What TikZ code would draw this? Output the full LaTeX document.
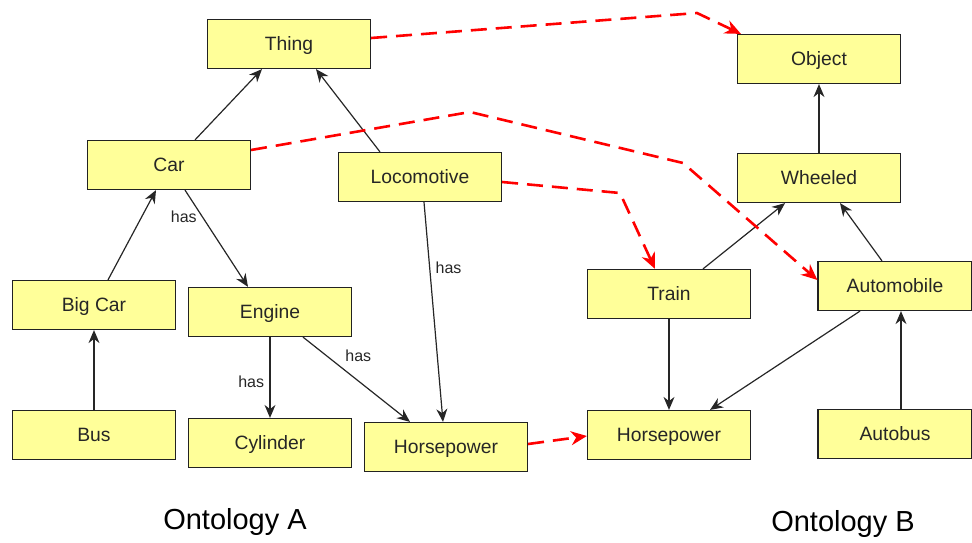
\documentclass[tikz,border=0pt]{standalone}
\usepackage{fontspec}
\setmainfont{Liberation Sans}
\usetikzlibrary{arrows.meta}
\definecolor{boxfill}{HTML}{FFFF99}
\definecolor{boxline}{HTML}{222222}
\begin{document}
\begin{tikzpicture}[x=1pt,y=-1pt,
  box/.style={draw=boxline,line width=1.2pt,fill=boxfill,minimum width=163pt,minimum height=49pt,inner sep=0pt,text height=13pt,text depth=0pt,font=\fontsize{19.3}{22}\selectfont,text=black!85},
  isa/.style={draw=black!85,line width=1.2pt,-{Stealth[length=13pt,width=11pt]}},
  map/.style={draw=red,line width=2.6pt,dash pattern=on 16pt off 9pt,-{Stealth[length=16pt,width=14pt]}},
  lbl/.style={font=\fontsize{16}{18}\selectfont,text=black!85}]
\useasboundingbox (0,0) rectangle (972,543);
% Ontology A
\node[box] (thing) at (289,44) {Thing};
\node[box] (car) at (169,165) {Car};
\node[box] (loco) at (420,177) {Locomotive};
\node[box] (bigcar) at (94,305) {Big Car};
\node[box] (engine) at (270,312) {Engine};
\node[box] (bus) at (94,435) {Bus};
\node[box] (cyl) at (270,443) {Cylinder};
\node[box] (hpa) at (446,447) {Horsepower};
% Ontology B
\node[box] (object) at (819,59) {Object};
\node[box] (wheeled) at (819,178) {Wheeled};
\node[box] (train) at (669,294) {Train};
\node[box,minimum width=154pt] (auto) at (895,286) {Automobile};
\node[box] (hpb) at (669,435) {Horsepower};
\node[box,minimum width=154pt] (autobus) at (895,434) {Autobus};
% labels
\node[font=\fontsize{29}{33}\selectfont] (ontA) at (235,522) {Ontology A};
\node[font=\fontsize{29}{33}\selectfont] (ontB) at (843,524) {Ontology B};
% black arrows A
\draw[isa] ([xshift=26pt]car.north) -- ([xshift=-27pt]thing.south);
\draw[isa] ([xshift=-40pt]loco.north) -- ([xshift=27pt]thing.south);
\draw[isa] ([xshift=14pt]bigcar.north) -- ([xshift=-13pt]car.south);
\draw[isa] (bus.north) -- (bigcar.south);
\draw[isa] ([xshift=16pt]car.south) -- node[lbl,pos=0.28,left=2pt] {has} ([xshift=-22pt]engine.north);
\draw[isa] (engine.south) -- node[lbl,pos=0.55,left=2pt] {has} (cyl.north);
\draw[isa] ([xshift=33pt]engine.south) -- node[lbl,pos=0.35,above right=1pt] {has} ([xshift=-36pt]hpa.north);
\draw[isa] ([xshift=4pt]loco.south) -- node[lbl,pos=0.3,right=2pt] {has} ([xshift=-3pt]hpa.north);
% black arrows B
\draw[isa] (wheeled.north) -- (object.south);
\draw[isa] ([xshift=34pt]train.north) -- ([xshift=-34pt]wheeled.south);
\draw[isa] ([xshift=-13pt]auto.north) -- ([xshift=21pt]wheeled.south);
\draw[isa] (train.south) -- (hpb.north);
\draw[isa] ([xshift=-35pt]auto.south) -- ([xshift=41pt]hpb.north);
\draw[isa] ([xshift=6pt]autobus.north) -- ([xshift=6pt]auto.south);
% red mappings
\coordinate (r1) at (697,13);
\draw[map] ([yshift=6pt]thing.east) -- (r1) -- ([xshift=4pt]object.north west);
\coordinate (r2a) at (470,112);
\coordinate (r2b) at (683,163);
\draw[map] ([yshift=15pt]car.east) -- (r2a) -- (r2b) -- ([yshift=6pt]auto.west);
\coordinate (r3) at (620,193);
\draw[map] ([yshift=-5pt]loco.east) -- (r3) -- ([xshift=-14pt]train.north);
\draw[map] ([yshift=3pt]hpa.east) -- ([yshift=-1pt]hpb.west);
\end{tikzpicture}
\end{document}
